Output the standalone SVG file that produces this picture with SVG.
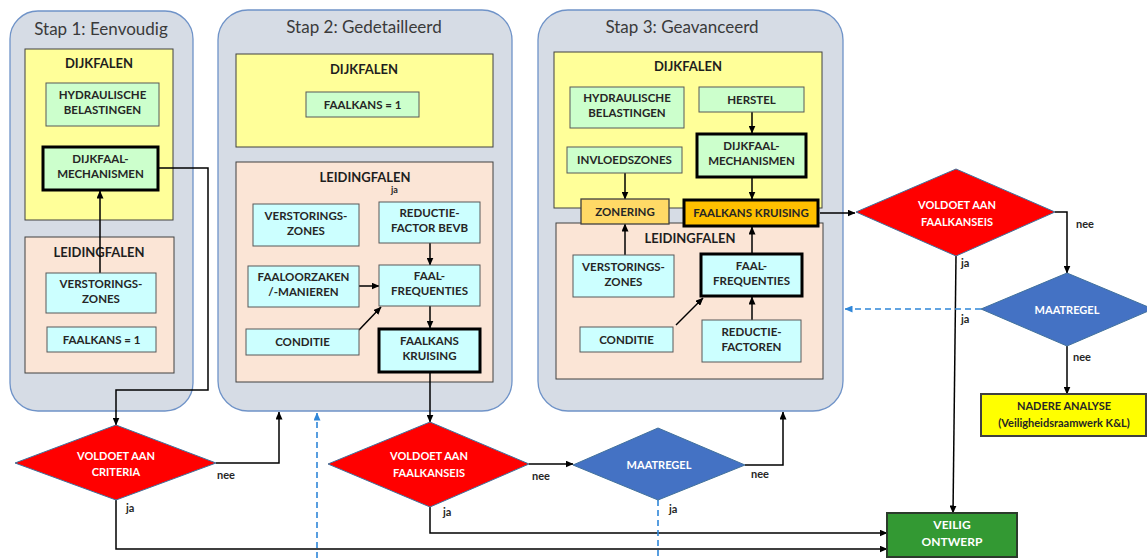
<svg xmlns="http://www.w3.org/2000/svg" width="1147" height="558" viewBox="0 0 1147 558">
  <defs>
    <marker id="arr" markerUnits="userSpaceOnUse" markerWidth="8" markerHeight="7" refX="7.5" refY="3.5" orient="auto">
      <path d="M0,0 L8,3.5 L0,7 z" fill="#000"/>
    </marker>
    <marker id="arrBlue" markerUnits="userSpaceOnUse" markerWidth="8" markerHeight="7" refX="7.5" refY="3.5" orient="auto">
      <path d="M0,0 L8,3.5 L0,7 z" fill="#2F86D8"/>
    </marker>
    <style>
      .panel{fill:#D6DCE5;stroke:#6F93C8;stroke-width:1.3}
      .title{font-family:Lato,"Liberation Sans",sans-serif;font-size:17px;fill:#3A3A3A;text-anchor:middle}
      .dijk{fill:#FFFF99;stroke:#404040;stroke-width:1}
      .leid{fill:#FBE5D6;stroke:#404040;stroke-width:1}
      .head{font-family:Lato,"Liberation Sans",sans-serif;font-weight:bold;font-size:13px;fill:#1E1E1E;text-anchor:middle}
      .g{fill:#CCFFCC;stroke:#595959;stroke-width:1}
      .c{fill:#CCFFFF;stroke:#595959;stroke-width:1}
      .thick{stroke:#000;stroke-width:3}
      .t{font-family:Lato,"Liberation Sans",sans-serif;font-weight:bold;font-size:11.5px;fill:#262626;text-anchor:middle}
      .w{font-family:Lato,"Liberation Sans",sans-serif;font-weight:bold;font-size:11px;fill:#FFFFFF;text-anchor:middle}
      .red{fill:#FF0000;stroke:#41719C;stroke-width:1}
      .blue{fill:#4472C4;stroke:#41719C;stroke-width:1}
      .lbl{font-family:Lato,"Liberation Sans",sans-serif;font-weight:bold;font-size:11px;fill:#262626}
      .ln{fill:none;stroke:#000;stroke-width:1.5}
      .dash{fill:none;stroke:#2F86D8;stroke-width:1.6;stroke-dasharray:6 4}
    </style>
  </defs>

  <!-- step containers -->
  <g id="stap1">
    <rect class="panel" x="10" y="11" width="183" height="400" rx="28"/>
    <text class="title" x="101" y="35">Stap 1: Eenvoudig</text>
    <rect class="dijk" x="25" y="49" width="148" height="171"/>
    <text class="head" x="99" y="68">DIJKFALEN</text>
    <rect class="leid" x="25" y="237" width="149" height="136"/>
    <text class="head" x="99" y="257">LEIDINGFALEN</text>
  </g>
  <g id="stap2">
    <rect class="panel" x="218" y="10" width="294" height="401" rx="30"/>
    <text class="title" x="364" y="33">Stap 2: Gedetailleerd</text>
    <rect class="dijk" x="236" y="54" width="257" height="93"/>
    <text class="head" x="364" y="74">DIJKFALEN</text>
    <rect class="leid" x="236" y="162" width="257" height="220"/>
    <text class="head" x="365" y="182">LEIDINGFALEN</text>
    <text class="lbl" x="391" y="193" style="font-size:9px">ja</text>
  </g>
  <g id="stap3">
    <rect class="panel" x="538" y="10" width="305" height="401" rx="30"/>
    <text class="title" x="682" y="33">Stap 3: Geavanceerd</text>
    <rect class="dijk" x="554" y="52" width="268" height="156"/>
    <text class="head" x="688" y="71">DIJKFALEN</text>
    <rect class="leid" x="556" y="223" width="267" height="156"/>
    <text class="head" x="690" y="243">LEIDINGFALEN</text>
  </g>

  <!-- connectors -->
  <g id="connectors">
    <!-- step 1 -->
    <path class="ln" d="M100,273 V191" marker-end="url(#arr)"/>
    <path class="ln" d="M158,168 H208 V390 H116 V425" marker-end="url(#arr)"/>
    <!-- criteria decision -->
    <path class="ln" d="M216,463 H279 V412" marker-end="url(#arr)"/>
    <path class="ln" d="M116,500 V549 H887" marker-end="url(#arr)"/>
    <path class="dash" d="M317,558 V413" marker-end="url(#arrBlue)"/>
    <!-- step 2 -->
    <path class="ln" d="M430,243 V265" marker-end="url(#arr)"/>
    <path class="ln" d="M359,286 H379" marker-end="url(#arr)"/>
    <path class="ln" d="M359,330 L381,307" marker-end="url(#arr)"/>
    <path class="ln" d="M430,306 V328" marker-end="url(#arr)"/>
    <path class="ln" d="M430,373 V422" marker-end="url(#arr)"/>
    <!-- lower decisions -->
    <path class="ln" d="M529,464 H573" marker-end="url(#arr)"/>
    <path class="ln" d="M430,507 V533 H887" marker-end="url(#arr)"/>
    <path class="ln" d="M745,465 H783 V412" marker-end="url(#arr)"/>
    <path class="dash" d="M658,500 V558"/>
    <!-- step 3 -->
    <path class="ln" d="M752,112 V133" marker-end="url(#arr)"/>
    <path class="ln" d="M625,173 V199" marker-end="url(#arr)"/>
    <path class="ln" d="M752,178 V199" marker-end="url(#arr)"/>
    <path class="ln" d="M625,255 V224" marker-end="url(#arr)"/>
    <path class="ln" d="M752,253 V227" marker-end="url(#arr)"/>
    <path class="ln" d="M752,320 V297" marker-end="url(#arr)"/>
    <path class="ln" d="M676,325 L703,298" marker-end="url(#arr)"/>
    <path class="ln" d="M820,213 H855" marker-end="url(#arr)"/>
    <!-- right decisions -->
    <path class="ln" d="M1055,212 H1067 V273" marker-end="url(#arr)"/>
    <path class="ln" d="M956,256 L953,513" marker-end="url(#arr)"/>
    <path class="dash" d="M981,309 H845" marker-end="url(#arrBlue)"/>
    <path class="ln" d="M1067,346 V394" marker-end="url(#arr)"/>
    <!-- branch labels -->
    <text class="lbl" x="217" y="479">nee</text>
    <text class="lbl" x="126" y="512">ja</text>
    <text class="lbl" x="532" y="480">nee</text>
    <text class="lbl" x="443" y="516">ja</text>
    <text class="lbl" x="751" y="478">nee</text>
    <text class="lbl" x="669" y="513">ja</text>
    <text class="lbl" x="1076" y="228">nee</text>
    <text class="lbl" x="961" y="267">ja</text>
    <text class="lbl" x="961" y="323">ja</text>
    <text class="lbl" x="1073" y="361">nee</text>
  </g>

  <!-- step 1 nodes -->
  <g id="s1-hydraulisch">
    <rect class="g" x="46" y="83" width="113" height="43"/>
    <text class="t"><tspan x="102.5" y="99">HYDRAULISCHE</tspan><tspan x="102.5" y="114">BELASTINGEN</tspan></text>
  </g>
  <g id="s1-dijkfaal">
    <rect class="g thick" x="43" y="147" width="115" height="43"/>
    <text class="t"><tspan x="100.5" y="163">DIJKFAAL-</tspan><tspan x="100.5" y="178">MECHANISMEN</tspan></text>
  </g>
  <g id="s1-verstoring">
    <rect class="c" x="46" y="273" width="110" height="40"/>
    <text class="t"><tspan x="101" y="288">VERSTORINGS-</tspan><tspan x="101" y="303">ZONES</tspan></text>
  </g>
  <g id="s1-faalkans">
    <rect class="c" x="47" y="327" width="109" height="25"/>
    <text class="t" x="101.5" y="343.5">FAALKANS = 1</text>
  </g>

  <!-- step 2 nodes -->
  <g id="s2-faalkans">
    <rect class="g" x="306" y="92" width="113" height="25"/>
    <text class="t" x="362.5" y="108.5">FAALKANS = 1</text>
  </g>
  <g id="s2-verstoring">
    <rect class="c" x="253" y="204" width="106" height="42"/>
    <text class="t"><tspan x="306" y="219.5">VERSTORINGS-</tspan><tspan x="306" y="234.5">ZONES</tspan></text>
  </g>
  <g id="s2-reductie">
    <rect class="c" x="379" y="202" width="101" height="41"/>
    <text class="t"><tspan x="429.5" y="217">REDUCTIE-</tspan><tspan x="429.5" y="232">FACTOR BEVB</tspan></text>
  </g>
  <g id="s2-faaloorzaken">
    <rect class="c" x="248" y="266" width="111" height="41"/>
    <text class="t"><tspan x="303.5" y="281">FAALOORZAKEN</tspan><tspan x="303.5" y="296">/-MANIEREN</tspan></text>
  </g>
  <g id="s2-faalfreq">
    <rect class="c" x="379" y="265" width="101" height="41"/>
    <text class="t"><tspan x="429.5" y="280">FAAL-</tspan><tspan x="429.5" y="295">FREQUENTIES</tspan></text>
  </g>
  <g id="s2-conditie">
    <rect class="c" x="246" y="329" width="113" height="26"/>
    <text class="t" x="302.5" y="346">CONDITIE</text>
  </g>
  <g id="s2-kruising">
    <rect class="c thick" x="379" y="329" width="101" height="43"/>
    <text class="t"><tspan x="429.5" y="345">FAALKANS</tspan><tspan x="429.5" y="360">KRUISING</tspan></text>
  </g>

  <!-- step 3 nodes -->
  <g id="s3-hydraulisch">
    <rect class="g" x="570" y="87" width="114" height="41"/>
    <text class="t"><tspan x="627" y="102">HYDRAULISCHE</tspan><tspan x="627" y="117">BELASTINGEN</tspan></text>
  </g>
  <g id="s3-herstel">
    <rect class="g" x="699" y="87" width="105" height="25"/>
    <text class="t" x="751.5" y="103.5">HERSTEL</text>
  </g>
  <g id="s3-invloed">
    <rect class="g" x="567" y="147" width="115" height="26"/>
    <text class="t" x="624.5" y="164">INVLOEDSZONES</text>
  </g>
  <g id="s3-dijkfaal">
    <rect class="g thick" x="697" y="134" width="109" height="43"/>
    <text class="t"><tspan x="751.5" y="150">DIJKFAAL-</tspan><tspan x="751.5" y="165">MECHANISMEN</tspan></text>
  </g>
  <g id="s3-zonering">
    <rect x="581" y="199" width="88" height="25" fill="#FFD966" stroke="#404040" stroke-width="1.3"/>
    <text class="t" x="625" y="215.5">ZONERING</text>
  </g>
  <g id="s3-kruising">
    <rect x="684" y="200" width="134" height="26" fill="#FFC000" stroke="#000" stroke-width="3"/>
    <text class="t" x="751" y="217">FAALKANS KRUISING</text>
  </g>
  <g id="s3-verstoring">
    <rect class="c" x="573" y="255" width="101" height="42"/>
    <text class="t"><tspan x="623.5" y="270.5">VERSTORINGS-</tspan><tspan x="623.5" y="285.5">ZONES</tspan></text>
  </g>
  <g id="s3-faalfreq">
    <rect class="c thick" x="701" y="254" width="101" height="42"/>
    <text class="t"><tspan x="751.5" y="269.5">FAAL-</tspan><tspan x="751.5" y="284.5">FREQUENTIES</tspan></text>
  </g>
  <g id="s3-conditie">
    <rect class="c" x="580" y="327" width="93" height="25"/>
    <text class="t" x="626.5" y="343.5">CONDITIE</text>
  </g>
  <g id="s3-reductie">
    <rect class="c" x="702" y="320" width="99" height="42"/>
    <text class="t"><tspan x="751.5" y="335.5">REDUCTIE-</tspan><tspan x="751.5" y="350.5">FACTOREN</tspan></text>
  </g>

  <!-- decisions and outcomes -->
  <g id="d-criteria">
    <polygon class="red" points="15,463 116,425 216,463 116,500"/>
    <text class="w"><tspan x="116" y="460">VOLDOET AAN</tspan><tspan x="116" y="476">CRITERIA</tspan></text>
  </g>
  <g id="d-faalkanseis-2">
    <polygon class="red" points="328,464 430,422 529,464 430,507"/>
    <text class="w"><tspan x="429" y="460">VOLDOET AAN</tspan><tspan x="429" y="477">FAALKANSEIS</tspan></text>
  </g>
  <g id="d-maatregel-2">
    <polygon class="blue" points="573,465 658,428 745,465 658,500"/>
    <text class="w" x="659" y="469">MAATREGEL</text>
  </g>
  <g id="d-faalkanseis-3">
    <polygon class="red" points="856,212 956,169 1055,212 956,256"/>
    <text class="w"><tspan x="957" y="209">VOLDOET AAN</tspan><tspan x="957" y="226">FAALKANSEIS</tspan></text>
  </g>
  <g id="d-maatregel-3">
    <polygon class="blue" points="981,309 1067,273 1153,309 1067,346"/>
    <text class="w" x="1067" y="314">MAATREGEL</text>
  </g>
  <g id="nadere-analyse">
    <rect x="981" y="394" width="165" height="42" fill="#FFFF00" stroke="#404040" stroke-width="2"/>
    <text class="t" style="font-size:11px"><tspan x="1064" y="410">NADERE ANALYSE</tspan><tspan x="1064" y="427">(Veiligheidsraamwerk K&amp;L)</tspan></text>
  </g>
  <g id="veilig-ontwerp">
    <rect x="887" y="513" width="130" height="44" fill="#339933" stroke="#2B3B2B" stroke-width="2"/>
    <text class="w" style="font-size:12px"><tspan x="952" y="529">VEILIG</tspan><tspan x="952" y="546">ONTWERP</tspan></text>
  </g>
</svg>
